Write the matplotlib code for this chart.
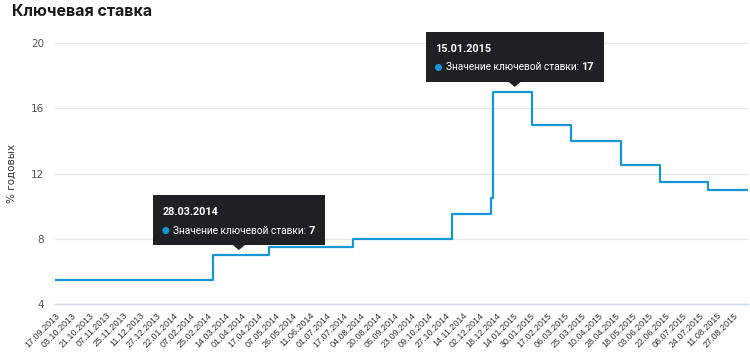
"""Key rate of the Bank of Russia, Sep 2013 - Sep 2015, on a trading-day axis.

Writes out.png (750x357).
"""
import matplotlib

matplotlib.use("Agg")
import matplotlib.pyplot as plt  # noqa: E402
import pandas as pd  # noqa: E402
from matplotlib.patches import Polygon, Rectangle  # noqa: E402
from matplotlib.transforms import IdentityTransform  # noqa: E402

START, END = "17.09.2013", "10.09.2015"
HOLIDAYS = [
    "04.11.2013",
    "01.01.2014", "02.01.2014", "03.01.2014", "06.01.2014", "07.01.2014", "08.01.2014",
    "10.03.2014", "01.05.2014", "02.05.2014", "09.05.2014", "12.06.2014", "13.06.2014",
    "03.11.2014", "04.11.2014",
    "01.01.2015", "02.01.2015", "05.01.2015", "06.01.2015", "07.01.2015", "08.01.2015",
    "09.01.2015", "23.02.2015", "09.03.2015", "01.05.2015", "11.05.2015", "12.06.2015",
]
RATE_DATES = ["17.09.2013", "03.03.2014", "28.04.2014", "28.07.2014", "05.11.2014",
              "12.12.2014", "16.12.2014", "02.02.2015", "16.03.2015", "05.05.2015",
              "16.06.2015", "03.08.2015"]
RATE_VALUES = [5.5, 7, 7.5, 8, 9.5, 10.5, 17, 15, 14, 12.5, 11.5, 11]
TICK_DATES = [
    "17.09.2013", "03.10.2013", "21.10.2013", "07.11.2013", "25.11.2013", "11.12.2013",
    "27.12.2013", "22.01.2014", "07.02.2014", "25.02.2014", "14.03.2014", "01.04.2014",
    "17.04.2014", "07.05.2014", "26.05.2014", "11.06.2014", "01.07.2014", "17.07.2014",
    "04.08.2014", "20.08.2014", "05.09.2014", "23.09.2014", "09.10.2014", "27.10.2014",
    "14.11.2014", "02.12.2014", "18.12.2014", "14.01.2015", "30.01.2015", "17.02.2015",
    "06.03.2015", "25.03.2015", "10.04.2015", "28.04.2015", "18.05.2015", "03.06.2015",
    "22.06.2015", "08.07.2015", "24.07.2015", "11.08.2015", "27.08.2015",
]
Y_TICKS = [4, 8, 12, 16, 20]
TOOLTIP_DATES = ["28.03.2014", "15.01.2015"]
TOOLTIP_VALUES = [7, 17]

LINE = "#1596d5"
DARK = "#1f2024"
FMT = "%d.%m.%Y"


def to_date(s):
    return pd.to_datetime(s, format=FMT)


days = pd.bdate_range(to_date(START), to_date(END), freq="C",
                      holidays=[to_date(h) for h in HOLIDAYS])


def pos(s):
    return days.get_loc(to_date(s))


fig = plt.figure(figsize=(7.5, 3.57), dpi=100)
ax = fig.add_axes([55 / 750, 53 / 357, 693 / 750, 261 / 357])

xs = [pos(d) for d in RATE_DATES] + [len(days) - 1]
ys = RATE_VALUES + [RATE_VALUES[-1]]
ax.step(xs, ys, where="post", color=LINE, lw=1.6, zorder=3)

ax.set_xlim(0, len(days) - 1)
ax.set_ylim(Y_TICKS[0], Y_TICKS[-1])
ax.set_yticks(Y_TICKS)
ax.set_xticks([pos(d) for d in TICK_DATES])
ax.set_xticklabels(TICK_DATES, rotation=45, ha="right", rotation_mode="anchor",
                   fontsize=6.5, color="#333333", family="Liberation Sans")
ax.tick_params(axis="x", length=0, pad=5)
ax.tick_params(axis="y", length=0, pad=8, labelsize=7.5, labelcolor="#555555")
ax.grid(axis="y", color="#e6e6e6", lw=0.9)
for side in ("left", "right", "top"):
    ax.spines[side].set_visible(False)
ax.spines["bottom"].set_color("#ccd6eb")
ax.spines["bottom"].set_linewidth(1)
ax.set_ylabel("% годовых", fontsize=7.5, color="#333333")
ax.yaxis.set_label_coords(-38 / 693, 0.5)

fig.text(12 / 750, 1 - 12 / 357, "Ключевая ставка", fontsize=11.5, weight="bold",
         family="Inter", color="#1a1a1a", va="center", ha="left")

renderer = fig.canvas.get_renderer()
ident = IdentityTransform()


def tooltip(date, value):
    px, py = ax.transData.transform((pos(date), value))
    bottom = py + 10
    kw = dict(transform=ident, color="white", va="center", ha="left",
              family="Roboto", zorder=11)
    head = fig.text(0, 0, date, fontsize=7.8, weight="bold", **kw)
    body = fig.text(0, 0, "Значение ключевой ставки: ", fontsize=7.3, **kw)
    val = fig.text(0, 0, str(value), fontsize=7.8, weight="bold", **kw)
    wb = body.get_window_extent(renderer).width
    wv = val.get_window_extent(renderer).width
    width = 20 + wb + wv + 10
    left = px - width / 2
    head.set_position((left + 10, bottom + 33))
    body.set_position((left + 20, bottom + 14.5))
    val.set_position((left + 20 + wb, bottom + 14.5))
    fig.add_artist(Rectangle((left, bottom), width, 50, transform=ident,
                             facecolor=DARK, edgecolor="none", zorder=10))
    fig.add_artist(Polygon([(px - 6, bottom), (px + 6, bottom), (px, bottom - 5)],
                           transform=ident, facecolor=DARK, edgecolor="none", zorder=10))
    fig.add_artist(plt.Circle((left + 13, bottom + 14.5), 2.8, transform=ident,
                              color=LINE, zorder=11))


for d, v in zip(TOOLTIP_DATES, TOOLTIP_VALUES):
    tooltip(d, v)

fig.savefig("out.png", dpi=100)
